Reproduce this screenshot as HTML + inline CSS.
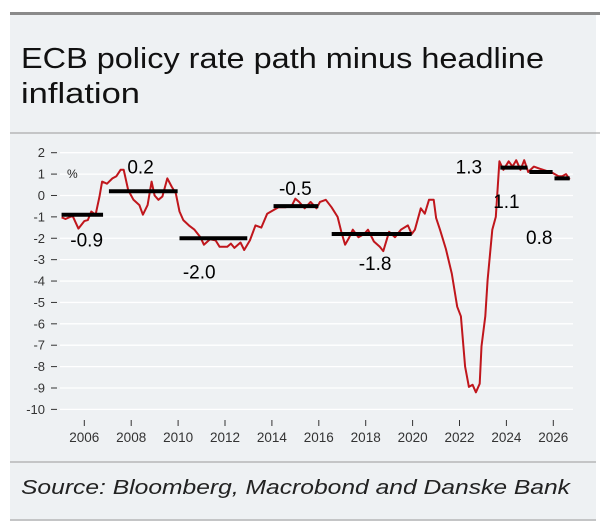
<!DOCTYPE html>
<html><head><meta charset="utf-8"><style>
html,body{margin:0;padding:0;background:#fff;}
svg{display:block;font-family:"Liberation Sans",sans-serif;}
</style></head><body>
<svg id="chart" width="600" height="528" viewBox="0 0 600 528">
<rect x="10" y="13" width="586" height="508" fill="#eef1f3"/>
<rect x="10" y="12" width="590" height="3" fill="#8a8a8a"/>
<text x="21" y="68" font-size="29" fill="#111" textLength="523" lengthAdjust="spacingAndGlyphs">ECB policy rate path minus headline</text>
<text x="21" y="103" font-size="29" fill="#111" textLength="119" lengthAdjust="spacingAndGlyphs">inflation</text>
<line x1="10" y1="133" x2="600" y2="133" stroke="#999" stroke-width="1"/>
<g id="grid"></g><g id="axes"></g><g id="series"></g><g id="bars"></g><g id="labels"></g>
<text x="67" y="178" font-size="12" fill="#222">%</text>
<line x1="10" y1="462" x2="596" y2="462" stroke="#999" stroke-width="1"/>
<text x="21" y="494" font-size="20" font-style="italic" fill="#222" textLength="549" lengthAdjust="spacingAndGlyphs">Source: Bloomberg, Macrobond and Danske Bank</text>
<line x1="10" y1="520" x2="596" y2="520" stroke="#999" stroke-width="1"/>
</svg>
<script>
const yTicks=[2,1,0,-1,-2,-3,-4,-5,-6,-7,-8,-9,-10];
const xTicks=[2006,2008,2010,2012,2014,2016,2018,2020,2022,2024,2026];
const years=[2005.03,2005.2,2005.5,2005.75,2006.0,2006.15,2006.3,2006.48,2006.65,2006.76,2006.97,2007.2,2007.37,2007.55,2007.68,2007.87,2008.1,2008.35,2008.5,2008.7,2008.87,2009.0,2009.16,2009.33,2009.54,2009.73,2009.9,2010.06,2010.22,2010.46,2010.7,2010.95,2011.1,2011.36,2011.6,2011.77,2012.1,2012.25,2012.4,2012.66,2012.82,2013.06,2013.3,2013.55,2013.8,2014.04,2014.28,2014.6,2014.84,2015.0,2015.16,2015.4,2015.65,2015.9,2016.05,2016.3,2016.54,2016.8,2016.96,2017.12,2017.28,2017.45,2017.69,2017.93,2018.1,2018.35,2018.6,2018.75,2019.0,2019.25,2019.5,2019.8,2019.96,2020.1,2020.35,2020.52,2020.7,2020.9,2021.0,2021.17,2021.42,2021.67,2021.9,2022.06,2022.24,2022.4,2022.56,2022.7,2022.86,2022.94,2023.1,2023.2,2023.4,2023.55,2023.7,2023.87,2024.1,2024.26,2024.42,2024.6,2024.76,2024.93,2025.17,2025.42,2025.98,2026.22,2026.38,2026.54,2026.7];
const values=[-1.02,-1.1,-0.95,-1.55,-1.2,-1.15,-0.75,-0.9,-0.05,0.65,0.55,0.8,0.9,1.2,1.2,0.25,-0.2,-0.45,-0.9,-0.45,0.65,0,-0.2,-0.05,0.8,0.4,0.1,-0.75,-1.15,-1.4,-1.6,-1.95,-2.3,-2.05,-2.1,-2.4,-2.4,-2.25,-2.45,-2.2,-2.55,-2.1,-1.4,-1.5,-0.85,-0.7,-0.55,-0.55,-0.5,-0.15,-0.3,-0.6,-0.3,-0.6,-0.3,-0.2,-0.55,-1.0,-1.7,-2.3,-2.0,-1.6,-1.95,-1.8,-1.6,-2.15,-2.4,-2.6,-1.7,-1.95,-1.6,-1.4,-1.8,-1.6,-0.6,-0.85,-0.2,-0.2,-1.05,-1.6,-2.5,-3.65,-5.2,-5.65,-8.0,-8.95,-8.85,-9.2,-8.8,-7.05,-5.65,-3.95,-1.6,-1.0,1.6,1.2,1.6,1.35,1.65,1.2,1.65,1.1,1.35,1.25,1.05,0.9,0.9,1.0,0.75,0.85];
const barStart=[2005.03,2007.05,2010.06,2014.07,2016.55,2023.74,2024.98,2026.05];
const barEnd=[2006.8,2009.98,2012.95,2015.98,2019.96,2024.9,2025.97,2026.7];
const barValue=[-0.9,0.2,-2.0,-0.5,-1.8,1.3,1.1,0.8];
const barLabels=["-0.9","0.2","-2.0","-0.5","-1.8","1.3","1.1","0.8"];
const labelYear=[2006.1,2008.4,2010.9,2015.0,2018.4,2022.4,2024.0,2025.4];
const labelValue=[-2.05,1.35,-3.55,0.35,-3.15,1.35,-0.25,-1.95];

const NS="http://www.w3.org/2000/svg";
const X=y=>84.3+(y-2006)*23.45;
const Y=v=>152.7-(v-2)*21.39;
function mk(t,a,p){const e=document.createElementNS(NS,t);for(const k in a)e.setAttribute(k,a[k]);document.getElementById(p).appendChild(e);return e;}
yTicks.forEach(v=>{
  const g=mk('line',{x1:60,x2:573,y1:Y(v),y2:Y(v),stroke:'#fff','stroke-width':1.3},'grid');
  
  
  const t=mk('line',{x1:51,x2:57,y1:Y(v),y2:Y(v),stroke:'#333','stroke-width':1},'axes');
  
  
  const l=mk('text',{x:45,y:Y(v)+4.5,'font-size':13,fill:'#333','text-anchor':'end'},'axes');
  l.textContent=v;
  
  
});
xTicks.forEach(y=>{
  const t=mk('line',{x1:X(y),x2:X(y),y1:420,y2:426,stroke:'#333','stroke-width':1},'axes');
  
  
  const l=mk('text',{x:X(y),y:442,'font-size':13.5,fill:'#333','text-anchor':'middle'},'axes');
  l.textContent=y;
  
  
});
const d=years.map((y,i)=>(i?'L':'M')+X(y).toFixed(1)+','+Y(values[i]).toFixed(1)).join(' ');
const p=mk('path',{d:d,fill:'none',stroke:'#c0161c','stroke-width':2,'stroke-linejoin':'round'},'series');


barValue.forEach((v,i)=>{
  const b=mk('line',{x1:X(barStart[i]),x2:X(barEnd[i]),y1:Y(v),y2:Y(v),stroke:'#000','stroke-width':4},'bars');
  
  
  const t=mk('text',{x:X(labelYear[i]),y:Y(labelValue[i])+7,'font-size':19,fill:'#000','text-anchor':'middle'},'labels');
  t.textContent=barLabels[i];
  
  
});
</script>
</body></html>
